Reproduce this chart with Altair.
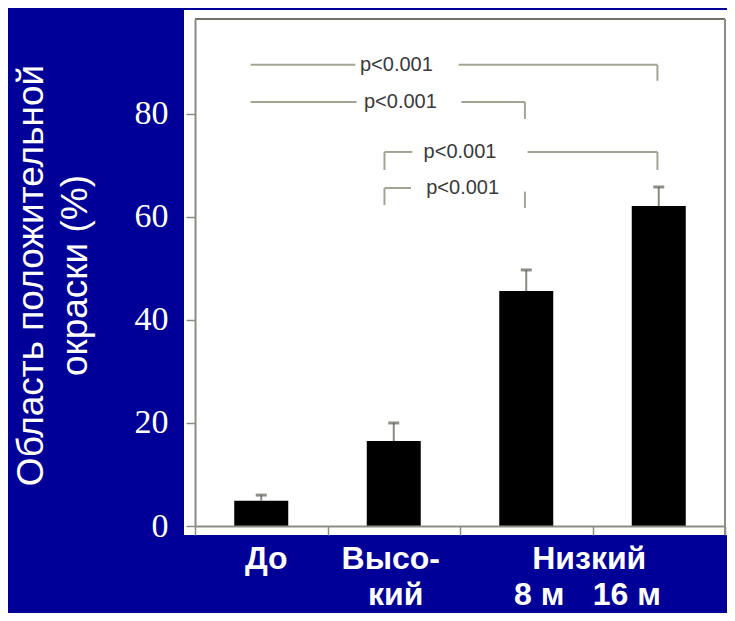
import altair as alt
import pandas as pd

# ---- data ----
categories = ["До", "Высокий", "Низкий 8 м", "Низкий 16 м"]
means = [4.9, 16.5, 45.6, 62.1]
sems = [1.1, 3.5, 4.1, 3.7]
y_tick_values = [0, 20, 40, 60, 80]
y_title = ["Область положительной", "окраски (%)"]

# category labels under the bars
label_text = ["До", "Высо-", "кий", "Низкий", "8 м", "16 м"]
label_cat = ["До", "Высокий", "Высокий", "Низкий 8 м", "Низкий 8 м", "Низкий 16 м"]
label_row = [0, 0, 1, 0, 1, 1]

# significance brackets (x in category-index units, y in %)
seg_x1 = [0.92, 2.49, 3.99, 0.92, 2.51, 2.99, 1.93, 1.93, 3.01, 3.99, 1.93, 1.93, 2.99]
seg_x2 = [1.71, 3.99, 3.99, 1.72, 2.99, 2.99, 1.93, 2.14, 3.99, 3.99, 1.93, 2.13, 2.99]
seg_y1 = [89.5, 89.5, 89.5, 82.3, 82.3, 82.3, 72.6, 72.6, 72.6, 72.6, 65.6, 65.6, 64.9]
seg_y2 = [89.5, 89.5, 86.4, 82.3, 82.3, 79.0, 69.1, 72.6, 72.6, 69.1, 62.3, 65.6, 61.7]
p_text = ["p<0.001", "p<0.001", "p<0.001", "p<0.001"]
p_x = [2.02, 2.05, 2.50, 2.52]
p_y = [89.5, 82.3, 72.6, 65.6]

# ---- tables ----
cat_index = {c: i + 1 for i, c in enumerate(categories)}
bars_df = pd.DataFrame({
    "cat": categories,
    "idx": [cat_index[c] for c in categories],
    "mean": means,
    "hi": [m + s for m, s in zip(means, sems)],
})
labels_df = pd.DataFrame({
    "text": label_text,
    "idx": [cat_index[c] for c in label_cat],
    "row": label_row,
})
seg_df = pd.DataFrame({"x1": seg_x1, "x2": seg_x2, "y1": seg_y1, "y2": seg_y2})
p_df = pd.DataFrame({"t": p_text, "x": p_x, "y": p_y})
bounds = [i + 0.5 for i in range(len(categories) + 1)]

FRAME = "#8c8c84"
W, H = 530, 507
yscale = alt.Scale(domain=[0, 98.4], nice=False, zero=False, padding=0)
xscale = alt.Scale(domain=[bounds[0], bounds[-1]], nice=False, zero=False, padding=0)

y_axis = alt.Axis(
    values=y_tick_values, grid=False, domain=True, domainColor=FRAME, domainWidth=2,
    ticks=True, tickSize=9, tickColor=FRAME, tickWidth=1.5,
    labelFont="Liberation Serif", labelFontSize=34, labelColor="white", labelPadding=18,
    title=y_title, titleFont="Liberation Sans", titleFontSize=37, titleFontWeight="normal",
    titleColor="white", titleLineHeight=44, titleX=-153, titleY=256,
    titleBaseline="alphabetic", titleAlign="center", zindex=1,
)
x_axis = alt.Axis(
    values=bounds, labels=False, title=None, grid=False, domain=True, domainColor=FRAME,
    domainWidth=2, ticks=True, tickSize=9, tickColor=FRAME, tickWidth=1.5, zindex=1,
)

base = alt.Chart(bars_df)
panel = base.mark_rect(color="white").encode(
    x=alt.value(-11), x2=alt.value(W + 2), y=alt.value(-9), y2=alt.value(H + 9)
)
frame_top = base.mark_rule(color="#707068", strokeWidth=2).encode(
    x=alt.value(0), x2=alt.value(W), y=alt.value(0)
)
frame_right = base.mark_rule(color=FRAME, strokeWidth=2).encode(
    x=alt.value(W), y=alt.value(0), y2=alt.value(H + 9)
)

bars = base.mark_bar(color="black", width=54).encode(
    x=alt.X("idx:Q", scale=xscale, axis=x_axis),
    y=alt.Y("mean:Q", scale=yscale, axis=y_axis),
)
err = base.mark_rule(color="#8a8a80", strokeWidth=2).encode(
    x=alt.X("idx:Q", scale=xscale),
    y=alt.Y("mean:Q", scale=yscale),
    y2="hi:Q",
)
caps = base.mark_tick(color="#606058", size=11, thickness=3, orient="horizontal").encode(
    x=alt.X("idx:Q", scale=xscale),
    y=alt.Y("hi:Q", scale=yscale),
)

brackets = alt.Chart(seg_df).mark_rule(color="#a4a494", strokeWidth=2).encode(
    x=alt.X("x1:Q", scale=xscale),
    x2="x2:Q",
    y=alt.Y("y1:Q", scale=yscale),
    y2="y2:Q",
)
ptext = alt.Chart(p_df).mark_text(
    font="Liberation Sans", fontSize=20, color="#3a3a3a", align="center", baseline="middle"
).encode(
    x=alt.X("x:Q", scale=xscale),
    y=alt.Y("y:Q", scale=yscale),
    text="t:N",
)

label_dx = [5, -3, 2, 63, 13, -32]
row_y = [550, 586]
label_layers = []
for i in range(len(label_text)):
    label_layers.append(
        alt.Chart(labels_df.iloc[[i]]).mark_text(
            font="Liberation Sans", fontSize=32, fontWeight="bold", color="white",
            align="center", baseline="alphabetic", dx=label_dx[i],
        ).encode(
            x=alt.X("idx:Q", scale=xscale),
            y=alt.value(row_y[label_row[i]]),
            text="text:N",
        )
    )

chart = (
    alt.layer(panel, bars, err, caps, brackets, ptext, frame_top, frame_right, *label_layers)
    .properties(
        width=W,
        height=H,
        autosize=alt.AutoSizeParams(type="none"),
        padding={"left": 187, "top": 11, "right": 2, "bottom": 87},
        background="#000099",
    )
    .configure_view(strokeWidth=0)
)

chart.save("out.html", embed_options={"renderer": "svg", "actions": False})
